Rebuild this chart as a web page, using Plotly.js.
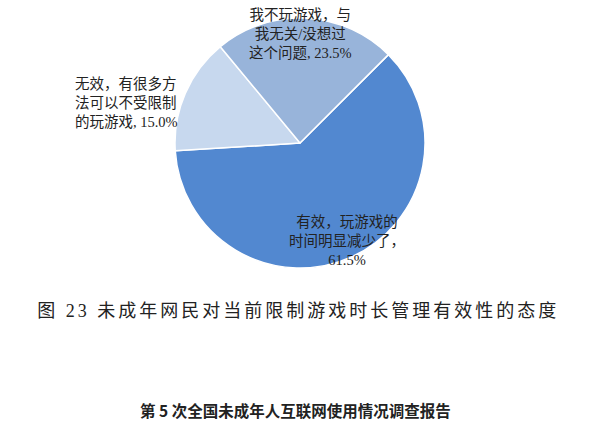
<!DOCTYPE html>
<html>
<head>
<meta charset="utf-8">
<script src="https://cdn.plot.ly/plotly-3.0.1.min.js"></script>
<style>
  html, body { margin: 0; padding: 0; background: #fff; }
  #chart { width: 600px; height: 445px; }
  /* the printed caption is set with wide tracking */
  .gtitle { letter-spacing: 3px; }
</style>
</head>
<body>
<div id="chart"></div>
<script>
// slice data, in drawing order (clockwise from the upper right)
const labels = [
  '有效，玩游戏的<br>时间明显减少了',
  '无效，有很多方<br>法可以不受限制<br>的玩游戏',
  '我不玩游戏，与<br>我无关/没想过<br>这个问题'
];
const values = [61.5, 15.0, 23.5];
const sliceColors = ['#5288d0', '#c7d8ee', '#98b4da'];
const labelSep = ['，<br>', ', ', ', '];

const caption = '图 23 未成年网民对当前限制游戏时长管理有效性的态度';
const footer = '第 5 次全国未成年人互联网使用情况调查报告';

// where each slice label sits (paper coords) and how it is aligned
const labelPos = [
  { x: 347 / 600, y: 1 - 241 / 445, align: 'center' },
  { x: 73 / 600, y: 1 - 103 / 445, align: 'left', xanchor: 'left' },
  { x: 300 / 600, y: 1 - 34 / 445, align: 'center' }
];

const cjk = 'Liberation Serif, "Noto Sans CJK SC", serif';

const annotations = labels.map((lbl, i) => ({
  xref: 'paper', yref: 'paper',
  x: labelPos[i].x, y: labelPos[i].y,
  xanchor: labelPos[i].xanchor || 'center', yanchor: 'middle',
  align: labelPos[i].align,
  showarrow: false,
  text: lbl + labelSep[i] + values[i].toFixed(1) + '%',
  font: { family: cjk, size: 14.5, color: '#222' }
}));

annotations.push({
  xref: 'paper', yref: 'paper', x: 295 / 600, y: 1 - 410 / 445,
  xanchor: 'center', yanchor: 'middle', showarrow: false,
  text: '<b>' + footer + '</b>',
  font: { family: '"Noto Sans CJK SC", sans-serif', size: 15.5, color: '#222' }
});

const data = [{
  type: 'pie',
  labels: labels,
  values: values,
  sort: false,
  direction: 'clockwise',
  rotation: 45,
  textinfo: 'none',
  hoverinfo: 'label+percent',
  marker: { colors: sliceColors, line: { color: '#ffffff', width: 1.5 } },
  domain: { x: [175 / 600, 425 / 600], y: [1 - 268 / 445, 1 - 18 / 445] }
}];

const layout = {
  width: 600, height: 445,
  margin: { l: 0, r: 0, t: 0, b: 0 },
  paper_bgcolor: '#ffffff',
  showlegend: false,
  title: {
    text: caption,
    x: 0.497, xanchor: 'center',
    y: 1 - 311 / 445, yanchor: 'middle', yref: 'paper',
    font: { family: cjk, size: 18, color: '#222' }
  },
  annotations: annotations
};

Plotly.newPlot('chart', data, layout, { displayModeBar: false, staticPlot: true });
</script>
</body>
</html>
